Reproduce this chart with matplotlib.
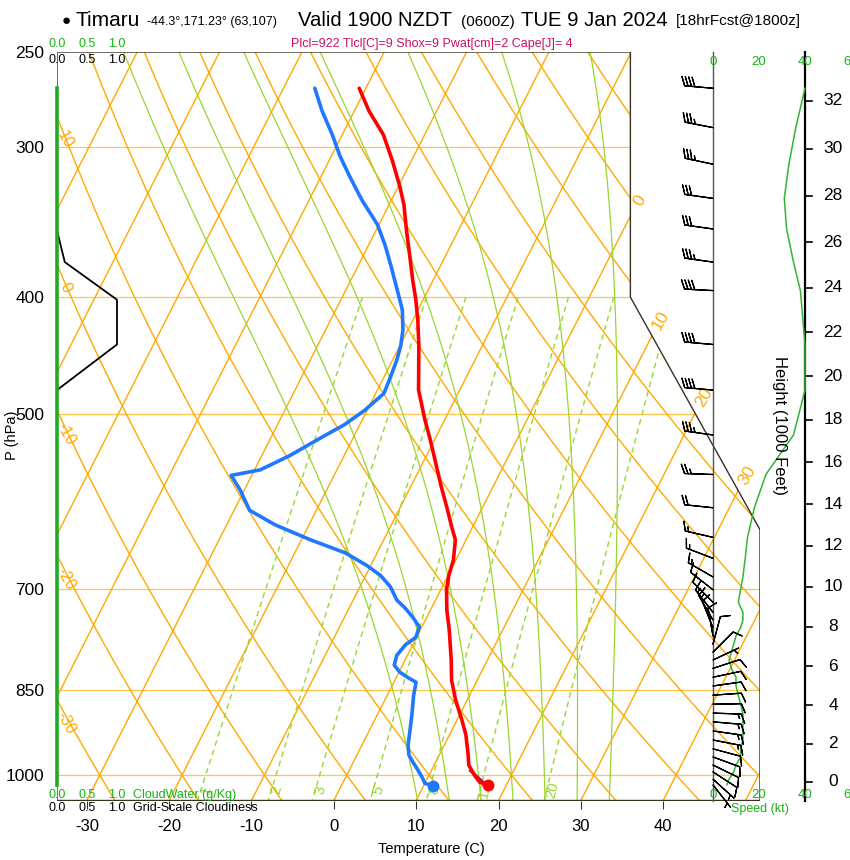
import numpy as np
import matplotlib
matplotlib.use('Agg')
import matplotlib.pyplot as plt
from matplotlib.patches import Polygon
from matplotlib.ticker import NullLocator, NullFormatter

plt.rcParams['font.family'] = ['Liberation Sans', 'DejaVu Sans']

# sounding (hPa, deg C)
temp_p = [268, 280, 293, 308, 323, 335, 352, 369, 387, 402, 418, 439, 478, 506, 526, 550, 574, 599, 622, 637,
          662, 682, 701, 729, 757, 802, 834, 866, 900, 926, 962, 981, 1000, 1014, 1019]
temp_c = [-40.8, -38.2, -35.0, -32.3, -29.9, -28.2, -26.3, -24.4, -22.5, -20.9, -19.4, -17.7, -15.0, -12.4, -10.5,
          -8.4, -6.4, -4.3, -2.5, -1.3, -0.3, 0.1, 0.7, 2.0, 3.5, 5.6, 6.9, 8.6, 10.6, 12.0, 13.5, 14.2, 15.5, 16.6, 17.8]
dewp_p = [268, 280, 293, 305, 317, 332, 348, 362, 376, 395, 410, 426, 439, 451, 467, 481, 497, 511, 523, 542,
          557, 563, 579, 602, 619, 637, 653, 669, 682, 697, 715, 726, 739, 753, 768, 779, 795, 810, 821, 830,
          837, 858, 891, 917, 944, 962, 975, 990, 1006, 1016, 1021]
dewp_c = [-46.2, -43.9, -41.2, -39.0, -36.6, -33.6, -30.2, -28.0, -26.1, -23.7, -21.9, -20.6, -19.9, -19.5, -19.2,
          -19.0, -20.3, -21.9, -23.8, -26.6, -29.3, -32.5, -30.5, -28.1, -24.1, -18.9, -13.9, -10.5, -8.2, -6.3,
          -4.7, -3.2, -1.7, -0.3, -0.1, -0.9, -1.3, -1.0, 0.1, 1.5, 2.7, 3.2, 4.2, 4.9, 5.6, 6.3, 7.2, 8.3, 9.4,
          10.0, 11.2]
parcel_p = [992, 1016]
parcel_c = [14.8, 17.2]

# model level winds
wind_p = [268, 289, 310, 331, 351, 374, 395, 438, 478, 521, 562, 599, 634, 660, 684, 701, 718, 732, 743, 754,
          766, 778, 790, 802, 815, 829, 843, 858, 873, 888, 903, 919, 935, 951, 966, 981, 994, 1008, 1019]
wind_dir = [275, 281, 282, 278, 278, 278, 273, 275, 275, 278, 272, 276, 283, 291, 300, 308, 315, 322, 330, 338,
            350, 15, 45, 65, 72, 78, 82, 86, 89, 92, 95, 98, 101, 105, 110, 116, 123, 132, 142]
wind_kt = [40, 36, 33, 31, 32, 35, 38, 40, 40, 35, 23, 18, 15, 14, 13, 12, 11, 13, 13, 12,
           10, 9, 8, 7, 8, 10, 10, 11, 12, 13, 13, 13, 13, 12, 12, 10, 9, 7, 6]

# cloud profiles
cloud_p = [268, 352, 374, 402, 438, 478, 1019]
cloud_frac = [0, 0, 0.13, 1.0, 1.0, 0, 0]
cwat_p = [268, 1019]
cwat = [0, 0]

t_ticks = list(range(-30, 41, 10))
p_ticks = [250, 300, 400, 500, 700, 850, 1000]
height_kft = list(range(0, 33, 2))
iso_lbl = [0, 10, 20, 30]
theta_lbl = [-30, -20, -10, 0, 10]
mix_ratio = [1, 2, 3, 5, 8, 12, 20]
theta_w = [8, 12, 16, 20, 24, 28, 32]

ORANGE = '#FFAA00'
LORANGE = '#FFC44D'
YGREEN = '#99D62E'
GREEN = '#14B414'

# NCL style skew-T geometry
K = (0.90692 / 0.54) * 44.061 / np.log(10)
XL, XR, XM = -19 / 0.54, 27.1 / 0.54, 18.6 / 0.54
PB, PT, PC1 = 1050., 250., 400.
PC2 = 10 ** ((132.182 - 9.0) / 44.061)


def skx(t, p):
    return np.asarray(t, float) + K * np.log(1000. / np.asarray(p, float))


def dewpt(e):
    a = np.log(e / 6.112)
    return 243.5 * a / (17.67 - a)


def lapse(t, p):
    es = 6.112 * np.exp(17.67 * (t - 273.15) / (t - 29.65))
    rs = 0.622 * es / (p - es)
    return (287.04 * t + 2.501e6 * rs) / (p * (1005.7 + 2.501e6 ** 2 * rs * 0.622 / (287.04 * t * t)))


def moist(tw, pend, n=400):
    pp = np.linspace(1000., pend, n)
    t = tw + 273.15
    out = [t]
    for i in range(1, n):
        dp = pp[i] - pp[i - 1]
        k1 = lapse(t, pp[i - 1])
        k2 = lapse(t + dp * k1, pp[i])
        t = t + dp * 0.5 * (k1 + k2)
        out.append(t)
    return pp, np.array(out) - 273.15


W, H = 850, 860
bot, top = 800.5, 52
ry, rh = (H - bot) / H, (bot - top) / H
fig = plt.figure(figsize=(W / 100, H / 100), dpi=100)
ax = fig.add_axes([57 / W, ry, 703 / W, rh])
ax.set_yscale('log')
ax.set_xlim(XL, XR)
ax.set_ylim(PB, PT)
for s in ax.spines.values():
    s.set_visible(False)

frame = Polygon([(XL, PB), (XR, PB), (XR, PC2), (XM, PC1), (XM, PT), (XL, PT)], closed=True,
                fill=False, ec='#3a3020', lw=1, zorder=5)
ax.add_patch(frame)


def bg(x, p, **kw):
    ln, = ax.plot(x, p, zorder=1, **kw)
    ln.set_clip_path(frame)


ps = np.geomspace(PT, PB, 400)

# pressure lines
for p in p_ticks[1:]:
    bg([XL, XR], [p, p], color=LORANGE, lw=0.9)

# isotherms
for t in range(-100, 60, 10):
    bg(skx([t, t], [PT, PB]), [PT, PB], color=ORANGE, lw=1)

# dry adiabats
for th in range(-30, 160, 10):
    t = (th + 273.15) * (ps / 1000.) ** 0.2857 - 273.15
    bg(skx(t, ps), ps, color=ORANGE, lw=1)

# moist adiabats
for tw in theta_w:
    for pend in (PT, PB):
        pp, tt = moist(tw, pend)
        bg(skx(tt, pp), pp, color=YGREEN, lw=0.9)

# mixing ratio lines
for w in mix_ratio:
    pp = np.geomspace(400, PB, 60)
    tt = dewpt(w * pp / (622. + w))
    bg(skx(tt, pp), pp, color=YGREEN, lw=1, dashes=(4, 3))
    tl = dewpt(w * 1030. / (622. + w))
    ax.annotate(str(w), (skx(tl, 1030.), 1030.), xytext=(4, 0), textcoords='offset points',
                rotation=75, color=YGREEN, fontsize=10.5, ha='center', va='center', zorder=2)

# dry adiabat labels (left edge)
for th in theta_lbl:
    t = (th + 273.15) * (ps / 1000.) ** 0.2857 - 273.15
    d = skx(t, ps) - XL
    i = np.where(np.diff(np.sign(d)))[0][0]
    pe = np.exp(np.interp(0, [d[i], d[i + 1]], [np.log(ps[i]), np.log(ps[i + 1])]))
    ax.annotate(str(th), (XL, pe), xytext=(6, -17), textcoords='offset points', rotation=-61,
                color=ORANGE, fontsize=11.5, ha='center', va='center', zorder=2)

# isotherm labels (right boundary)
right_x = np.interp(np.log(ps), np.log([PT, PC1, PC2, PB]), [XM, XM, XR, XR])
for t in iso_lbl:
    d = skx(np.full_like(ps, t), ps) - right_x
    i = np.where(np.diff(np.sign(d)))[0][0]
    pe = np.exp(np.interp(0, [d[i + 1], d[i]], [np.log(ps[i + 1]), np.log(ps[i])]))
    ax.annotate(str(t), (skx(t, pe), pe), xytext=(6.5, 11), textcoords='offset points', rotation=60,
                color=ORANGE, fontsize=12.5, ha='center', va='center', zorder=2)

# sounding
ax.plot(skx(parcel_c, parcel_p), parcel_p, color='#8B1A7A', lw=2.2, zorder=6)
ax.plot(skx(temp_c, temp_p), temp_p, color='#FF0000', lw=2.6, zorder=7, solid_capstyle='round')
ax.plot(skx(dewp_c, dewp_p), dewp_p, color='#1F78FF', lw=2.6, zorder=7, solid_capstyle='round')
ax.plot(skx(temp_c[-1], temp_p[-1]), temp_p[-1], 'o', color='#FF0000', ms=7.5, zorder=8)
ax.plot(skx(dewp_c[-1], dewp_p[-1]), dewp_p[-1], 'o', color='#1F78FF', ms=7.5, zorder=8)

# axes ticks
ax.set_xticks(skx(t_ticks, [PB] * len(t_ticks)))
ax.set_xticklabels([str(t) for t in t_ticks])
ax.tick_params(axis='x', direction='out', length=5.5, width=0.8, color='#333333', labelsize=12, pad=8)
ax.set_yticks(p_ticks)
ax.set_yticklabels([str(p) for p in p_ticks])
ax.yaxis.set_minor_locator(NullLocator())
ax.yaxis.set_minor_formatter(NullFormatter())
ax.tick_params(axis='y', length=0, pad=9, labelsize=12.5)

# cloud panel
ax_c = fig.add_axes([57 / W, ry, 60 / W, rh])
ax_c.set_yscale('log')
ax_c.set_ylim(PB, PT)
ax_c.set_xlim(0, 1)
ax_c.axis('off')
ax_c.plot(cloud_frac, cloud_p, color='black', lw=1.3, clip_on=False)
ax_c.plot(cwat, cwat_p, color='#22AA22', lw=2.6, clip_on=False)

# wind / height panel
ax_w = fig.add_axes([713 / W, ry, 138 / W, rh])
ax_w.set_yscale('log')
ax_w.set_ylim(PB, PT)
ax_w.set_xlim(0, 60)
ax_w.axis('off')
ax_w.plot([0, 0], [PT, PB], color='#555555', lw=1, clip_on=False)
ax_w.plot([40, 40], [PT, PB], color='black', lw=1.6, clip_on=False)
for h in height_kft:
    ph = 1013.25 * (1 - 2.25577e-5 * h * 304.8) ** 5.25588
    ax_w.plot([40, 43], [ph, ph], color='black', lw=1.2, clip_on=False)
    ax_w.text(52.2, ph, str(h), ha='center', va='center', fontsize=12.5, clip_on=False)
ax_w.plot(wind_kt, wind_p, color='#33B533', lw=1.1, clip_on=False, zorder=3)
wd = np.radians(wind_dir)
u = -np.array(wind_kt) * np.sin(wd)
v = -np.array(wind_kt) * np.cos(wd)
ax_w.barbs(np.zeros(len(wind_p)), wind_p, u, v, length=6.4, lw=0.9, color='black',
           sizes=dict(spacing=0.12, height=0.32, width=0.25), clip_on=False, zorder=4)
xt = ax_w.get_xaxis_transform()
for s in (0, 20, 40, 60):
    for yy in (0.9866, 0.0073):
        ax_w.text(s, yy, str(s), transform=xt, color=GREEN, fontsize=9.5, ha='center', va='center',
                  clip_on=False)


def ft(x, y, s, **kw):
    fig.text(x / W, 1 - y / H, s, **kw)


# titles and labels
ft(66, 21, '\u25CF', fontsize=11, ha='center', va='center')
ft(76, 21, 'Timaru', fontsize=15, va='center')
ft(147, 22, '-44.3\u00b0,171.23\u00b0 (63,107)', fontsize=9, va='center')
ft(298, 21, 'Valid 1900 NZDT', fontsize=14.6, va='center')
ft(461, 22, '(0600Z)', fontsize=11, va='center')
ft(521, 21, 'TUE 9 Jan 2024', fontsize=14.6, va='center')
ft(676, 21, '[18hrFcst@1800z]', fontsize=11, va='center')
ft(432, 44, 'Plcl=922 Tlcl[C]=9 Shox=9 Pwat[cm]=2 Cape[J]= 4', color='#CC1060', fontsize=9,
   ha='center', va='center')

for xx, s in ((57, '0.0'), (87, '0.5'), (117, '1.0')):
    ft(xx, 44, s, color=GREEN, fontsize=9, ha='center', va='center')
    ft(xx, 60, s, color='black', fontsize=9, ha='center', va='center')
    ft(xx, 795, s, color=GREEN, fontsize=9, ha='center', va='center')
    ft(xx, 808, s, color='black', fontsize=9, ha='center', va='center')
ft(133, 795, 'CloudWater (g/Kg)', color=GREEN, fontsize=9, va='center')
ft(133, 808, 'Grid-Scale Cloudiness', color='black', fontsize=9, va='center')

ft(12, 435, 'P (hPa)', rotation=90, fontsize=10.5, ha='center', va='center')
ft(431, 849, 'Temperature (C)', fontsize=10.5, ha='center', va='center')
ft(779, 425, 'Height (1000 Feet)', rotation=270, fontsize=12, ha='center', va='center')
ft(760, 809, 'Speed (kt)', color=GREEN, fontsize=9, ha='center', va='center')

fig.savefig('out.png', dpi=100)
